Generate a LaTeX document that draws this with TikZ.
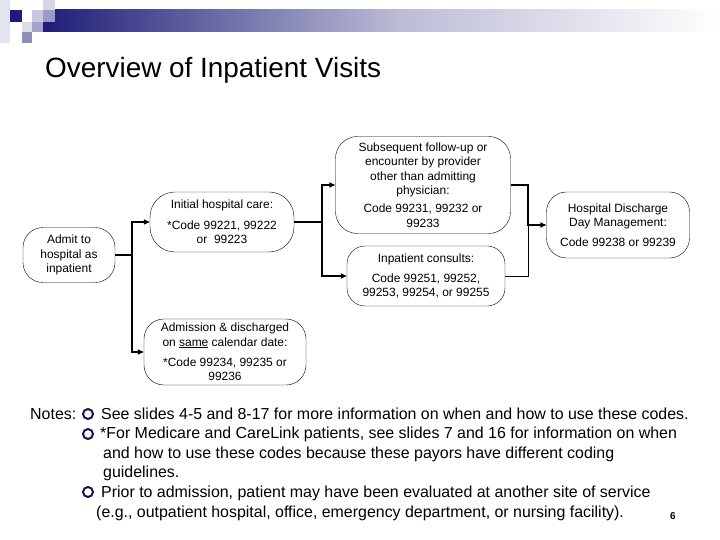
\documentclass[tikz,border=0pt]{standalone}
\usepackage{fontspec}
\setmainfont{Liberation Sans}
\usetikzlibrary{arrows.meta}
\definecolor{navy}{RGB}{30,30,120}
\begin{document}
\begin{tikzpicture}[x=1bp, y=-1bp,
  box/.style={draw, rectangle, rounded corners=#1,
    align=center, inner sep=1pt, font=\fontsize{12}{14.5}\selectfont},
  box/.default=20bp,
  link/.style={line width=2.2pt},
  linkarrow/.style={link, -{Triangle[length=6pt,width=5pt]}},
  thinlink/.style={line width=0.8pt},
  note/.style={anchor=base west, inner sep=0pt, font=\fontsize{16}{19.5}\selectfont},
  bullet/.style={circle, draw=navy!70!black, line width=2pt, minimum size=10bp, inner sep=0pt}]
  \useasboundingbox (0,0) rectangle (720,540);
  % header bar and squares
  \fill[left color=navy, right color=navy!30] (43,10) rectangle (400,32);
  \fill[left color=navy!30, right color=white] (399.5,10) rectangle (720,32);
  \fill[navy!12] (0,0) rectangle (10,43);
  \fill[navy] (10,10) rectangle (22,22);
  \fill[navy!25] (32,10) rectangle (43,22);
  \fill[navy!18] (43,0) rectangle (55,10);
  \fill[navy!45] (43,10) rectangle (55,22);
  \fill[navy!15] (22,22) rectangle (32,32);
  \fill[navy!40] (32,22) rectangle (43,32);
  \fill[navy!50] (22,32) rectangle (32,43);
  \node[anchor=base west, inner sep=0pt, font=\fontsize{28}{34}\selectfont] (title) at (45,78) {Overview of Inpatient Visits};
  % boxes
  \node[box, minimum width=92bp, minimum height=55bp] (admit) at (69,255) {Admit to\\hospital as\\inpatient};
  \node[box=25bp, minimum width=144bp, minimum height=60bp] (initial) at (222,222) {Initial hospital care:\\[6.5pt]*Code 99221, 99222\\or~~99223};
  \node[box, minimum width=162bp, minimum height=66bp] (sameday) at (225,352) {Admission \& discharged\\on \underline{same} calendar date:\\[6pt]*Code 99234, 99235 or\\99236};
  \node[box=22bp, minimum width=175bp, minimum height=97bp] (subseq) at (423,185) {Subsequent follow-up or\\encounter by provider\\other than admitting\\physician:\\[3.5pt]Code 99231, 99232 or\\99233};
  \node[box=18bp, minimum width=158bp, minimum height=60bp] (consult) at (426,276) {Inpatient consults:\\[5pt]Code 99251, 99252,\\99253, 99254, or 99255};
  \node[box, minimum width=143bp, minimum height=66bp] (discharge) at (618,225) {Hospital Discharge\\Day Management:\\[5pt]Code 99238 or 99239};
  % connectors
  \coordinate (j1) at (132,255);
  \coordinate (j2) at (322,222);
  \coordinate (j3) at (528,225);
  \draw[link] (admit) -- (j1);
  \draw[linkarrow] (j1) |- (initial);
  \draw[linkarrow] (j1) |- (sameday);
  \draw[link] (initial) -- (j2);
  \draw[linkarrow] (j2) |- (subseq);
  \draw[linkarrow] (j2) |- (consult);
  \draw[linkarrow] (subseq) -| (j3) -- (discharge);
  \draw[thinlink] (consult) -| (j3);
  % notes
  \node[note] (notes) at (30,419) {Notes:};
  \node[bullet] (b1) at (88,414) {};
  \node[bullet] (b2) at (88,434) {};
  \node[bullet] (b3) at (88,492) {};
  \node[note] (n1) at (101,419) {See slides 4-5 and 8-17 for more information on when and how to use these codes.};
  \node[note] (n2) at (100,438.6) {*For Medicare and CareLink patients, see slides 7 and 16 for information on when};
  \node[note] (n2b) at (103,458.2) {and how to use these codes because these payors have different coding};
  \node[note] (n2c) at (103,477.8) {guidelines.};
  \node[note] (n3) at (101,497.4) {Prior to admission, patient may have been evaluated at another site of service};
  \node[note] (n3b) at (96,517) {(e.g., outpatient hospital, office, emergency department, or nursing facility).};
  \node[font=\bfseries\fontsize{10}{12}\selectfont] (page) at (673,516) {6};
\end{tikzpicture}
\end{document}
